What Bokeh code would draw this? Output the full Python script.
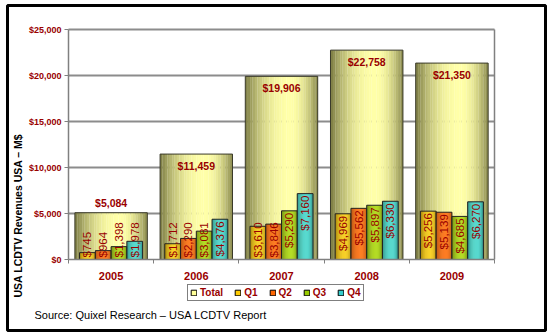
import numpy as np
from bokeh.plotting import figure
from bokeh.models import (Range1d, FixedTicker, NumeralTickFormatter, Legend,
                          LegendItem, ColumnDataSource, Label, BoxAnnotation)
from bokeh.core.properties import value, field
from bokeh.embed import file_html
from bokeh.resources import INLINE

# ---------------- data ----------------
years = ["2005", "2006", "2007", "2008", "2009"]
total = [5084, 11459, 19906, 22758, 21350]
q1 = [745, 1712, 3610, 4969, 5256]
q2 = [964, 2290, 3846, 5562, 5139]
q3 = [1398, 3081, 5290, 5897, 4685]
q4 = [1978, 4376, 7160, 6330, 6270]
series_names = ["Total", "Q1", "Q2", "Q3", "Q4"]
y_ticks = [0, 5000, 10000, 15000, 20000, 25000]
y_title = "USA LCDTV Revenues USA \u2013 M$"
source_text = "Source: Quixel Research \u2013 USA LCDTV Report"

# ---------------- style / layout ----------------
RED = "#990000"
FONT = "Liberation Sans"
GRID = "#8c8c8c"
TOTAL_W = 0.85
QW = 0.185
N_STRIPS = 30
styles = {  # (dark edge, bright highlight, legend colour)
    "Total": ("#7a7a42", "#ffffa8", "#ffff99"),
    "Q1": ("#a98200", "#ffd21c", "#ffcc00"),
    "Q2": ("#b04000", "#ff6a10", "#ff6600"),
    "Q3": ("#5c7c00", "#a8d610", "#99cc00"),
    "Q4": ("#178585", "#45dada", "#33cccc"),
}
W, H = 550, 335
PL, PR, PT, PB = 68, 494, 29, 259          # plot area in canvas pixels
ymax = y_ticks[-1]
n = len(years)
xs = (PR - PL) / n                          # px per category
ys = (PB - PT) / ymax                       # px per unit
x0, x1 = -0.5 - PL / xs, n - 0.5 + (W - PR) / xs
y0, y1 = -(H - PB) / ys, ymax + PT / ys
units_per_px = 1 / ys


def px2x(px):
    return x0 + px / xs


def px2y(py):
    return y1 - py / ys


def hex2rgb(h):
    h = h.lstrip("#")
    return np.array([int(h[i:i + 2], 16) for i in (0, 2, 4)], dtype=float)


def mix(dark, light, f):
    c = hex2rgb(dark) * (1 - f) + hex2rgb(light) * f
    return "#%02x%02x%02x" % tuple(int(round(v)) for v in c)


def strips(centers, width, heights, dark, light):
    L, R, T, C = [], [], [], []
    for c, h in zip(centers, heights):
        for k in range(N_STRIPS):
            t = (k + 0.5) / N_STRIPS
            if t < 0.62:
                f = 1 - ((0.62 - t) / 0.62) ** 2.2
            else:
                f = 1 - ((t - 0.62) / 0.38) ** 2 * 0.9
            f = max(0.0, min(1.0, f))
            left = c - width / 2 + k * width / N_STRIPS
            L.append(left)
            R.append(left + width / N_STRIPS + 2e-3)
            T.append(h)
            C.append(mix(dark, light, f))
    return dict(left=L, right=R, top=T, bottom=[0] * len(L), color=C)


p = figure(width=W, height=H, output_backend="svg", toolbar_location=None,
           x_range=Range1d(x0, x1), y_range=Range1d(y0, y1), min_border=0)
p.title.visible = False
p.background_fill_color = "white"
p.border_fill_color = "white"
p.outline_line_color = None

# axes (drawn at fixed data locations so the frame can cover the whole canvas)
p.yaxis.fixed_location = -0.5
p.yaxis.bounds = (0, ymax)
p.yaxis.ticker = FixedTicker(ticks=y_ticks)
p.yaxis.formatter = NumeralTickFormatter(format="$0,0")
p.yaxis.axis_line_color = "#808080"
p.yaxis.axis_line_width = 1.5
p.yaxis.major_tick_line_color = "#808080"
p.yaxis.major_tick_out = 4
p.yaxis.major_tick_in = 0
p.yaxis.minor_tick_line_color = None
p.yaxis.major_label_text_color = RED
p.yaxis.major_label_text_font = FONT
p.yaxis.major_label_text_font_style = "bold"
p.yaxis.major_label_text_font_size = "9px"
p.yaxis.major_label_standoff = 3

xc = list(range(n))
p.xaxis.fixed_location = 0
p.xaxis.bounds = (-0.5, n - 0.5)
p.xaxis.ticker = FixedTicker(ticks=xc, minor_ticks=[i - 0.5 for i in range(n + 1)])
p.xaxis.major_label_overrides = {i: y for i, y in enumerate(years)}
p.xaxis.axis_line_color = "#808080"
p.xaxis.axis_line_width = 1.5
p.xaxis.major_tick_line_color = None
p.xaxis.major_tick_out = 0
p.xaxis.minor_tick_line_color = "#808080"
p.xaxis.minor_tick_out = 4
p.xaxis.minor_tick_in = 0
p.xaxis.major_label_text_color = RED
p.xaxis.major_label_text_font = FONT
p.xaxis.major_label_text_font_style = "bold"
p.xaxis.major_label_text_font_size = "11px"
p.xaxis.major_label_standoff = 8

p.xgrid.visible = False
p.ygrid.visible = False

# grid lines across the plot area and the right wall
gy = [t for t in y_ticks if t > 0]
p.segment(x0=[-0.5] * len(gy), x1=[n - 0.5] * len(gy), y0=gy, y1=gy,
          line_color=GRID, line_width=2)
p.segment(x0=[n - 0.5], x1=[n - 0.5], y0=[0], y1=[ymax], line_color="#808080", line_width=1.5)

# total bars
d, l, _ = styles["Total"]
p.quad(source=ColumnDataSource(strips(xc, TOTAL_W, total, d, l)), left="left", right="right",
       top="top", bottom="bottom", fill_color="color", line_color=None)
p.quad(left=[c - TOTAL_W / 2 for c in xc], right=[c + TOTAL_W / 2 for c in xc], top=total,
       bottom=0, fill_color=None, line_color="#3a3a2a", line_width=1)

# quarter bars
quarters = [q1, q2, q3, q4]
for j, vals in enumerate(quarters):
    d, l, _ = styles[series_names[j + 1]]
    cs = [c + (j - 1.5) * QW for c in xc]
    p.quad(source=ColumnDataSource(strips(cs, QW, vals, d, l)), left="left", right="right",
           top="top", bottom="bottom", fill_color="color", line_color=None)
    p.quad(left=[c - QW / 2 for c in cs], right=[c + QW / 2 for c in cs], top=vals,
           bottom=0, fill_color=None, line_color="#222222", line_width=1)

# quarter labels (rotated)
lab = dict(x=[], y=[], text=[], align=[], yoff=[])
for j, vals in enumerate(quarters):
    for i, v in enumerate(vals):
        lab["x"].append(xc[i] + (j - 1.5) * QW)
        lab["text"].append("${:,}".format(v))
        if v / units_per_px >= 38:
            lab["y"].append(v)
            lab["align"].append("right")
            lab["yoff"].append(2)
        else:
            lab["y"].append(0)
            lab["align"].append("left")
            lab["yoff"].append(-2)
p.text(source=ColumnDataSource(lab), x="x", y="y", text="text", angle=np.pi / 2,
       text_align=field("align"), text_baseline="middle", y_offset="yoff",
       text_color=RED, text_font=value(FONT), text_font_size="11.5px")

# total labels
tl = dict(x=xc, y=total, text=["${:,}".format(v) for v in total],
          base=["top" if v > 8000 else "bottom" for v in total],
          yoff=[6 if v > 8000 else -4 for v in total])
p.text(source=ColumnDataSource(tl), x="x", y="y", text="text", text_align="center",
       text_baseline=field("base"), y_offset="yoff", text_color=RED,
       text_font=value(FONT), text_font_style="bold", text_font_size="10.5px")

# legend
items = []
for name in series_names:
    r = p.quad(left=[np.nan], right=[np.nan], top=[np.nan], bottom=[np.nan],
               fill_color=styles[name][2], line_color="black", line_width=1)
    items.append(LegendItem(label=name, renderers=[r]))
legend = Legend(items=items, orientation="horizontal", location=(187, H - 301),
                border_line_color="black", border_line_width=1,
                background_fill_color="white", background_fill_alpha=1,
                label_text_color=RED, label_text_font=FONT, label_text_font_style="bold",
                label_text_font_size="10px", glyph_width=7, glyph_height=7,
                label_height=9, label_width=0, label_standoff=3, spacing=11,
                padding=2, margin=0)
p.add_layout(legend)

# axis title and source line
p.add_layout(Label(x=17, y=H - 215, x_units="screen", y_units="screen", text=y_title,
                   angle=np.pi / 2, text_align="center", text_baseline="middle",
                   text_font=FONT, text_font_size="10.5px", text_font_style="bold",
                   text_color="black"))
p.add_layout(Label(x=34, y=H - 314, x_units="screen", y_units="screen", text=source_text,
                   text_align="left", text_baseline="middle", text_font=FONT,
                   text_font_size="11px", text_color="black"))

# outer frame
p.add_layout(BoxAnnotation(left=px2x(7), right=px2x(545), top=px2y(5), bottom=px2y(330),
                           fill_alpha=0, fill_color=None, line_color="black",
                           line_alpha=1, line_width=3))

open("out.html", "w").write(file_html(p, INLINE))
